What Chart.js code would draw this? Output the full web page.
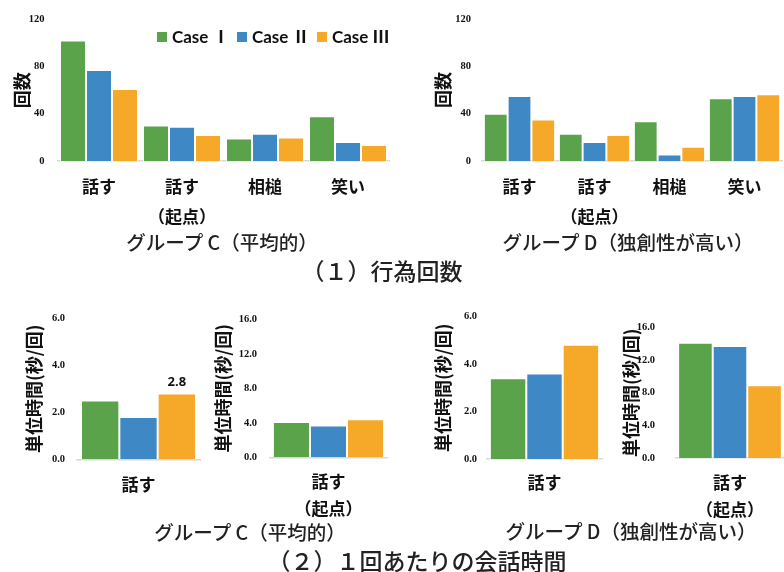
<!DOCTYPE html>
<html><head><meta charset="utf-8">
<script src="https://cdn.jsdelivr.net/npm/chart.js@4.4.0/dist/chart.umd.min.js"></script>
<style>
html,body{margin:0;padding:0;background:#fff;}
#wrap{position:relative;width:784px;height:572px;overflow:hidden;background:#fff;}
canvas{position:absolute;}
.t{position:absolute;width:500px;text-align:center;font-family:"Noto Sans CJK JP";font-weight:500;color:#222;white-space:nowrap;}
.lg{position:absolute;font-family:Lato,"Noto Sans CJK JP";font-weight:bold;font-size:17px;line-height:20px;color:#111;white-space:nowrap;}
.sq{position:absolute;width:10px;height:10px;}
</style></head><body><div id="wrap"></div>
<script>
// ---- data ----
const seriesNames = ['Case Ⅰ', 'Case Ⅱ', 'Case Ⅲ'];
const seriesColors = ['#5BA34A', '#3E88C5', '#F6A828'];

const actCategories = [['話す'], ['話す', '（起点）'], ['相槌'], ['笑い']];
const countTicks = [0, 40, 80, 120];
// (1) group C
const actC_caseI   = [102, 30, 19, 38];
const actC_caseII  = [77, 29, 23, 16];
const actC_caseIII = [61, 22, 20, 13.5];
// (1) group D
const actD_caseI   = [40, 23, 33.5, 53];
const actD_caseII  = [55, 16, 5.5, 55];
const actD_caseIII = [35, 22, 12, 56.5];

// (2) time per utterance
const talkCategory = [['話す']];
const talkOriginCategory = [['話す', '（起点）']];
const timeTicksSmall = [0, 2, 4, 6];
const timeTicksLarge = [0, 4, 8, 12, 16];
const timeC_talk   = [2.5, 1.8, 2.8];
const timeC_origin = [4.1, 3.7, 4.4];
const timeD_talk   = [3.4, 3.6, 4.8];
const timeD_origin = [14.1, 13.7, 8.9];

// ---- drawing ----
const wrap = document.getElementById('wrap');
const JP = '"Noto Sans CJK JP"';

function makeBar(o) {
  const c = document.createElement('canvas');
  c.width = o.W; c.height = o.H;
  c.style.left = o.L + 'px'; c.style.top = o.T + 'px';
  c.style.width = o.W + 'px'; c.style.height = o.H + 'px';
  wrap.appendChild(c);
  new Chart(c, {
    type: 'bar',
    data: {
      labels: o.labels,
      datasets: o.values.map((v, i) => ({
        label: seriesNames[i], data: v, backgroundColor: seriesColors[i],
        borderColor: 'rgba(255,255,255,0.75)', borderWidth: 1,
        categoryPercentage: o.cp, barPercentage: 1
      }))
    },
    options: {
      responsive: false, animation: false, devicePixelRatio: 1,
      layout: { padding: { top: o.area.top - o.T, right: o.L + o.W - o.area.right, left: 0, bottom: 0 } },
      plugins: { legend: { display: false }, tooltip: { enabled: false } },
      scales: {
        x: {
          grid: { display: false, drawTicks: false },
          border: { display: true, color: '#d9d9d9', width: 1.5 },
          ticks: { font: { family: JP, weight: 'bold', size: 17, lineHeight: o.lh }, color: '#111',
                   padding: o.xpad, maxRotation: 0, autoSkip: false },
          afterFit: s => { s.height = o.T + o.H - o.area.bottom; }
        },
        y: {
          min: o.ticks[0], max: o.ticks[o.ticks.length - 1],
          grid: { display: false, drawTicks: false }, border: { display: false },
          afterBuildTicks: s => { s.ticks = o.ticks.map(v => ({ value: v })); },
          ticks: { font: { family: '"Liberation Serif"', weight: 'bold', size: 10.5 }, color: '#111',
                   padding: o.ypad, callback: v => o.fmt(v) },
          title: { display: true, text: o.ytitle, font: { family: JP, weight: 'bold', size: 18 },
                   color: '#111', padding: { top: 11, bottom: 0 } },
          afterFit: s => { s.width = o.area.left - o.L; }
        }
      }
    },
    plugins: o.plugins || []
  });
}

const intFmt = v => String(v);
const decFmt = v => Number(v).toFixed(1);
const timeTitle = '単位時間(秒/回)';

// (1) C
makeBar({ L: 0, T: 0, W: 395, H: 232, area: { left: 57.5, right: 389.5, top: 19, bottom: 161 },
  labels: actCategories, values: [actC_caseI, actC_caseII, actC_caseIII], ticks: countTicks, fmt: intFmt,
  ytitle: '回数', cp: 0.94, lh: 1.75, xpad: 11, ypad: 13 });
// (1) D
makeBar({ L: 421, T: 0, W: 363, H: 232, area: { left: 482, right: 782, top: 19, bottom: 161 },
  labels: actCategories, values: [actD_caseI, actD_caseII, actD_caseIII], ticks: countTicks, fmt: intFmt,
  ytitle: '回数', cp: 0.95, lh: 1.75, xpad: 11, ypad: 11 });

const valueLabel = {
  id: 'valueLabel',
  afterDatasetsDraw(chart) {
    const el = chart.getDatasetMeta(2).data[0];
    const ctx = chart.ctx;
    ctx.save();
    ctx.font = 'bold 13px "Open Sans"';
    ctx.fillStyle = '#111'; ctx.textAlign = 'center'; ctx.textBaseline = 'middle';
    ctx.fillText(timeC_talk[2].toFixed(1), el.x, el.y - 11);
    ctx.restore();
  }
};

// (2) C talk
makeBar({ L: 12, T: 300, W: 192, H: 225, area: { left: 77, right: 200, top: 313.3, bottom: 459.3 },
  labels: talkCategory, values: [[timeC_talk[0]], [timeC_talk[1]], [timeC_talk[2]]], ticks: timeTicksSmall, fmt: decFmt,
  ytitle: timeTitle, cp: 0.935, lh: 1.65, xpad: 11, ypad: 12, plugins: [valueLabel] });
// (2) C origin
makeBar({ L: 201, T: 300, W: 195, H: 225, area: { left: 270, right: 387, top: 315.7, bottom: 457.3 },
  labels: talkOriginCategory, values: [[timeC_origin[0]], [timeC_origin[1]], [timeC_origin[2]]], ticks: timeTicksLarge, fmt: decFmt,
  ytitle: timeTitle, cp: 0.95, lh: 1.6, xpad: 10.5, ypad: 13 });
// (2) D talk
makeBar({ L: 421, T: 300, W: 185, H: 225, area: { left: 487, right: 602, top: 314.3, bottom: 459 },
  labels: talkCategory, values: [[timeD_talk[0]], [timeD_talk[1]], [timeD_talk[2]]], ticks: timeTicksSmall, fmt: decFmt,
  ytitle: timeTitle, cp: 0.95, lh: 1.65, xpad: 10, ypad: 10 });
// (2) D origin
makeBar({ L: 609, T: 300, W: 175, H: 225, area: { left: 676, right: 784, top: 322.7, bottom: 458 },
  labels: talkOriginCategory, values: [[timeD_origin[0]], [timeD_origin[1]], [timeD_origin[2]]], ticks: timeTicksLarge, fmt: decFmt,
  ytitle: timeTitle, cp: 0.96, lh: 1.6, xpad: 11, ypad: 21 });

// legend (chart 1)
const legendX = [157, 237, 317];
seriesNames.forEach((n, i) => {
  const sq = document.createElement('div');
  sq.className = 'sq'; sq.style.left = legendX[i] + 'px'; sq.style.top = '32px';
  sq.style.background = seriesColors[i];
  wrap.appendChild(sq);
  const tx = document.createElement('div');
  tx.className = 'lg'; tx.style.left = (legendX[i] + 15) + 'px'; tx.style.top = '27px';
  tx.textContent = n;
  wrap.appendChild(tx);
});

// titles
function title(text, cx, cy, size) {
  const d = document.createElement('div');
  d.className = 't';
  d.style.left = (cx - 250) + 'px';
  d.style.top = (cy - size * 0.7) + 'px';
  d.style.fontSize = size + 'px';
  d.style.lineHeight = (size * 1.4) + 'px';
  d.textContent = text;
  wrap.appendChild(d);
}
title('グループ C（平均的）', 222, 242, 19.5);
title('グループ D（独創性が高い）', 628, 242, 19.5);
title('（１）行為回数', 382, 270, 23);
title('グループ C（平均的）', 250, 532, 19.5);
title('グループ D（独創性が高い）', 631, 531, 19.5);
title('（２）１回あたりの会話時間', 417, 560, 23);
</script></body></html>
